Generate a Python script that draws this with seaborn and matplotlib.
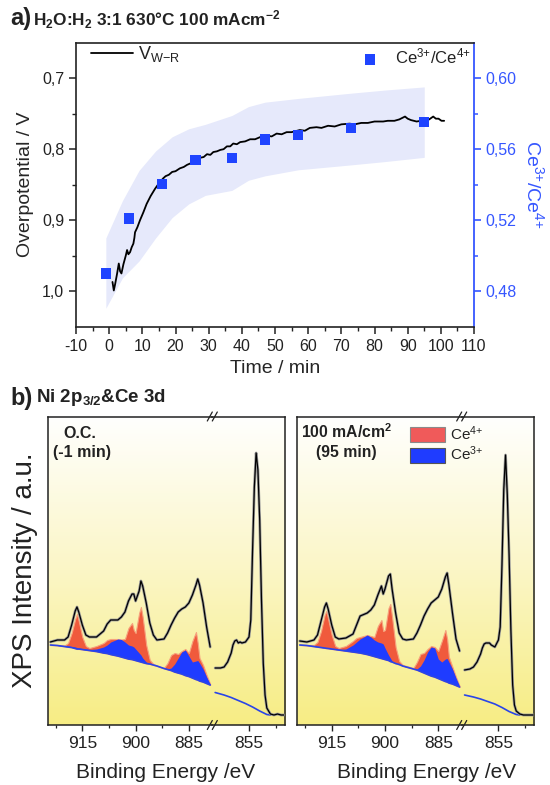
import numpy as np
import matplotlib
matplotlib.use("Agg")
import matplotlib.pyplot as plt
from matplotlib.ticker import MultipleLocator, FixedLocator, FuncFormatter, NullLocator
from matplotlib.colors import LinearSegmentedColormap
from matplotlib.patches import Patch
from matplotlib.lines import Line2D
import seaborn as sns

# ---- panel a: overpotential vs time ----
t_vwr = [1.0, 1.4, 1.8, 2.4, 2.9, 3.3, 3.7, 4.3, 5.0, 5.4, 5.8, 6.3, 6.8, 7.3, 7.6, 7.8,
         8.5, 9.3, 10.3, 11.3, 12.5, 13.8, 15.0, 16.3, 17.0, 18.0, 19.0, 20.0, 21.3, 22.5,
         23.5, 24.5, 25.4, 26.5, 27.5, 28.5, 29.5, 30.5, 31.4, 32.5, 33.5, 34.5, 35.5, 36.5,
         37.4, 38.5, 39.5, 41, 42.5, 44, 45.5, 47.5, 49, 50.5, 52, 53.5, 55, 57.5, 59, 60.5,
         62.5, 64, 66, 68, 70, 72.5, 74, 76, 78, 80, 82.6, 84, 86, 87.5, 89.2, 90, 91, 92.7,
         94, 95.5, 96.5, 97.7, 98.5, 99.3, 100.2, 101]
v_wr = [0.987, 0.999, 0.990, 0.975, 0.961, 0.972, 0.975, 0.962, 0.950, 0.942, 0.948, 0.945,
        0.938, 0.933, 0.925, 0.917, 0.910, 0.900, 0.889, 0.877, 0.866, 0.856, 0.848, 0.841,
        0.838, 0.836, 0.832, 0.831, 0.827, 0.825, 0.822, 0.820, 0.816, 0.815, 0.812, 0.811,
        0.807, 0.808, 0.804, 0.803, 0.801, 0.800, 0.796, 0.796, 0.792, 0.793, 0.790, 0.789,
        0.786, 0.786, 0.783, 0.781, 0.782, 0.778, 0.779, 0.776, 0.776, 0.773, 0.774, 0.770,
        0.769, 0.770, 0.767, 0.768, 0.765, 0.764, 0.765, 0.763, 0.763, 0.761, 0.761, 0.760,
        0.760, 0.758, 0.754, 0.757, 0.759, 0.761, 0.760, 0.760, 0.758, 0.754, 0.757, 0.757,
        0.760, 0.760]

t_ce = [-1, 6, 16, 26, 37, 47, 57, 73, 95]
ce_ratio = [0.490, 0.521, 0.5405, 0.554, 0.555, 0.5655, 0.568, 0.572, 0.5753]

band_t = [-1, 4, 9, 14, 19, 24, 29, 37, 42, 47, 57, 72, 83, 95]
band_hi = [0.510, 0.531, 0.548, 0.559, 0.567, 0.5715, 0.574, 0.579, 0.584, 0.5865, 0.5886,
           0.5914, 0.5933, 0.5951]
band_lo = [0.4704, 0.4875, 0.497, 0.510, 0.5215, 0.5292, 0.534, 0.5368, 0.5425, 0.545,
           0.5484, 0.551, 0.553, 0.5554]

# ---- panel b: XPS spectra (intensity in arbitrary units) ----
ce_ev = [924, 922, 920, 919, 918, 917, 916.5, 916, 915, 914, 913, 911, 909, 908, 907, 905,
         904, 903, 902, 901, 900.5, 900, 899, 898.5, 898, 897, 896, 895, 894, 892, 891, 890,
         889, 888, 887, 886, 885, 884, 883, 882.5, 882, 881, 880, 879]

oc_total = [83, 85, 85, 88, 100, 114, 118, 113, 100, 90, 88, 88, 94, 101, 105, 105, 108, 113,
            124, 131, 131, 124, 134, 144, 139, 122, 102, 90, 85, 86, 92, 100, 107, 113, 116,
            118, 122, 130, 140, 146, 140, 122, 98, 78]
oc_ce4 = [80.5, 80, 79.5, 82, 92, 106, 111, 104, 88, 79, 77, 79, 82, 85, 86, 86, 85.5, 86, 97,
          102, 95, 92, 112, 118, 108, 80, 65, 61, 59.5, 57, 62, 70, 72, 71, 74, 76, 72, 84, 93,
          82, 67, 60, 50, 41]
oc_ce3 = [80, 80, 79, 79, 78.5, 78, 77.5, 77, 76.5, 76, 75.5, 76, 78, 80, 83, 86, 85.5, 83, 80,
          79, 78, 76, 72, 70, 67, 63, 61, 60, 59, 56.5, 56, 57, 61, 67, 73, 75, 69, 63, 64,
          64.5, 62, 56, 48, 41]
oc_bg = [80, 79.5, 78.5, 78, 77.5, 76.5, 76, 76, 75.5, 75, 74.5, 73.5, 72, 71.5, 70.5, 69, 68,
         67, 66, 65.5, 65, 64.5, 63.5, 63, 62.5, 61.5, 61, 60, 59, 56.5, 55.5, 54.5, 53, 52,
         51, 49.5, 48.5, 47, 45.5, 45, 44, 43, 41.5, 40]

ma_total = [84, 83, 85, 90, 104, 118, 122, 116, 100, 88, 86, 87, 91, 100, 109, 112, 115, 120,
            130, 139, 131, 136, 149, 151, 136, 112, 92, 86, 85, 86, 92, 100, 109, 116, 122,
            125, 128, 136, 148, 152, 140, 112, 86, 74]
ma_ce4 = [80.5, 80, 80, 83, 94, 110, 114, 106, 90, 79, 77, 79, 84, 87, 88, 90, 89, 88, 99, 105,
          94, 95, 117, 121, 108, 78, 64, 60, 59, 57, 63, 71, 72, 76, 79, 78, 74, 84, 95, 86,
          68, 58, 48, 39]
ma_ce3 = [80, 79.5, 79, 78.5, 78, 77.5, 77, 77, 76.5, 76, 75.5, 76, 80, 83, 86, 90, 88, 85, 83,
          82, 81, 77, 70, 67, 64, 61.5, 60.5, 59.5, 58.5, 56, 56, 59, 65, 73, 78, 77, 66, 63,
          66, 66.5, 63, 56, 47, 39]
ma_bg = [80, 79.5, 78.5, 78, 77.5, 77, 76.7, 76.5, 76, 75.5, 75, 74, 73, 72.5, 72, 70.5, 69.5,
         68.5, 67.5, 66.5, 66, 65.5, 64.5, 63.5, 63, 61.5, 60.5, 59, 58, 56, 55, 53.5, 52,
         50.5, 49, 48, 46.5, 45, 43.5, 43, 42, 41, 39.5, 38]

ni_ev = [864.5, 863, 862, 861, 860, 859.5, 859, 858.5, 858, 857.5, 857, 856, 855, 854.5, 854,
         853.5, 853, 852.5, 852, 851.5, 851, 850.5, 850, 849, 848, 847, 846, 845.2]
oc_ni = [57, 57, 58, 63, 72, 80, 84, 85, 82, 83, 82, 83, 88, 105, 175, 238, 272, 255, 205, 125,
         62, 30, 17, 11, 10, 11, 10, 10]
ma_ni = [55, 56, 58, 63, 71, 77, 81, 82, 82, 82, 80, 78, 85, 98, 160, 235, 270, 230, 170, 95,
         40, 20, 14, 11, 10, 10, 10, 10]
ni_bg_ev = [864.5, 862, 860, 858, 856, 854, 852, 850, 849]
oc_ni_bg = [32.5, 30, 27.5, 24.5, 21.5, 18, 14, 10.5, 10]
ma_ni_bg = [30, 28, 26, 23.5, 21, 17.5, 13.5, 10.5, 10]

# ---- style ----
sns.set_theme(style="ticks")
plt.rcParams['font.family'] = ['Liberation Sans', 'DejaVu Sans']
plt.rcParams['mathtext.fontset'] = 'custom'
plt.rcParams['mathtext.rm'] = 'Liberation Sans'
plt.rcParams['mathtext.it'] = 'Liberation Sans:italic'
plt.rcParams['mathtext.bf'] = 'Liberation Sans:bold'
plt.rcParams['axes.unicode_minus'] = False
plt.rcParams['axes.edgecolor'] = '#222222'
plt.rcParams['text.color'] = '#222222'
plt.rcParams['xtick.color'] = '#222222'
plt.rcParams['ytick.color'] = '#222222'

BLUE_AX = '#3556ff'
BLUE_SQ = '#1f44ff'
BLUE_FILL = '#1f3cff'
RED_FILL = '#f05a3c'
TXT = '#222222'

W, H = 550, 785
fig = plt.figure(figsize=(5.5, 7.85), dpi=100)


def rect(x0, y0, x1, y1):
    return [x0 / W, 1 - y1 / H, (x1 - x0) / W, (y1 - y0) / H]


comma1 = FuncFormatter(lambda v, p: f"{v:.1f}".replace('.', ','))
comma2 = FuncFormatter(lambda v, p: f"{v:.2f}".replace('.', ','))

# ---- panel a ----
ax = fig.add_axes(rect(76, 42.7, 474, 326.7))
ax_r = ax.twinx()
ax_s = ax.twinx()
ax_r.set_zorder(1)
ax.set_zorder(2)
ax_s.set_zorder(3)
ax.patch.set_visible(False)
ax_s.patch.set_visible(False)

ax_r.fill_between(band_t, band_lo, band_hi, color='#e6e9fb', lw=0)
sns.lineplot(x=t_vwr, y=v_wr, ax=ax, color='black', lw=1.3, label=r'V$_{\mathregular{W{-}R}}$')
sns.scatterplot(x=t_ce, y=ce_ratio, ax=ax_s, marker='s', s=55, color=BLUE_SQ,
                edgecolor='none', label=r'Ce$^{3{+}}$/Ce$^{4{+}}$', zorder=5)

ax.set_xlim(-10, 110)
ax.set_ylim(1.05, 0.65)
ax_r.set_ylim(0.46, 0.62)
ax_s.set_ylim(0.46, 0.62)

ax.xaxis.set_major_locator(MultipleLocator(10))
ax.xaxis.set_minor_locator(MultipleLocator(5))
ax.yaxis.set_major_locator(FixedLocator([0.7, 0.8, 0.9, 1.0]))
ax.yaxis.set_minor_locator(FixedLocator([0.75, 0.85, 0.95]))
ax.yaxis.set_major_formatter(comma1)
ax_r.yaxis.set_major_locator(FixedLocator([0.48, 0.52, 0.56, 0.60]))
ax_r.yaxis.set_minor_locator(FixedLocator([0.50, 0.54, 0.58]))
ax_r.yaxis.set_major_formatter(comma2)
ax_s.yaxis.set_major_locator(NullLocator())
ax_s.yaxis.set_minor_locator(NullLocator())
for s in ax_s.spines.values():
    s.set_visible(False)
for s in ax_r.spines.values():
    s.set_visible(False)
ax_r.spines['right'].set_visible(True)
ax_r.spines['right'].set_color(BLUE_AX)
ax_r.spines['right'].set_linewidth(1.3)
ax.spines['right'].set_visible(False)
for side in ['left', 'bottom', 'top']:
    ax.spines[side].set_visible(True)
    ax.spines[side].set_linewidth(1.2)

ax.tick_params(axis='both', which='major', direction='out', length=5, width=1.1, labelsize=11.5)
ax.tick_params(axis='both', which='minor', direction='out', length=3, width=1.0)
ax.tick_params(axis='x', top=False, which='both')
ax_r.tick_params(axis='y', which='major', direction='out', length=5, width=1.2,
                 colors=BLUE_AX, labelsize=11.5)
ax_r.tick_params(axis='y', which='minor', direction='out', length=3, width=1.1, colors=BLUE_AX)

ax.set_xlabel('Time / min', fontsize=14, labelpad=5)
ax.set_ylabel('Overpotential / V', fontsize=14, labelpad=6)
ax_r.set_ylabel(r'Ce$^{3{+}}$/Ce$^{4{+}}$', fontsize=14, color=BLUE_AX, rotation=270, labelpad=20)

ax.legend(loc='upper left', bbox_to_anchor=(91 / W, 1 - 44 / H), bbox_transform=fig.transFigure,
          frameon=False, fontsize=13, handlelength=2.3, handletextpad=0.3, borderpad=0,
          borderaxespad=0)
ax_s.legend(loc='upper right', bbox_to_anchor=(471 / W, 1 - 47 / H), bbox_transform=fig.transFigure,
            frameon=False, fontsize=12, handletextpad=0.5, borderpad=0, borderaxespad=0)

fig.text(10 / W, 1 - 19 / H, 'a)', fontsize=17, fontweight='bold', va='center')
fig.text(33 / W, 1 - 20 / H, r'H$_\mathbf{2}$O:H$_\mathbf{2}$ 3:1 630°C 100 mAcm$^\mathbf{-2}$',
         fontsize=12.4, fontweight='bold', va='center')

# ---- panel b ----
fig.text(10 / W, 1 - 398 / H, 'b)', fontsize=17, fontweight='bold', va='center')
fig.text(36 / W, 1 - 398 / H, r'Ni 2p$_\mathbf{3/2}$&Ce 3d', fontsize=13.5, fontweight='bold',
         va='center')

grad = LinearSegmentedColormap.from_list('bg', ['#fffffe', '#fbf6c6', '#f7ed84'])
YTOP, YBOT = 416.5, 725
YMAX = YBOT - YTOP


def break_mark(xpx, ypx):
    for dx in (-2.5, 2.5):
        x0, y0 = xpx + dx - 2.5, ypx + 4.5
        x1, y1 = xpx + dx + 2.5, ypx - 4.5
        fig.add_artist(Line2D([x0 / W, x1 / W], [1 - y0 / H, 1 - y1 / H],
                              transform=fig.transFigure, color=TXT, lw=0.9, zorder=10))


def xps_panel(x0, xbreak, x1, total, ce4, ce3, bg, ni, ni_bg):
    bg_ax = fig.add_axes(rect(x0, YTOP, x1, YBOT), zorder=0)
    bg_ax.imshow(np.linspace(0, 1, 256).reshape(-1, 1), cmap=grad, aspect='auto',
                 extent=[0, 1, 0, 1])
    bg_ax.set_axis_off()

    a_ce = fig.add_axes(rect(x0, YTOP, xbreak, YBOT), zorder=1)
    a_ni = fig.add_axes(rect(xbreak, YTOP, x1, YBOT), zorder=1)
    for a in (a_ce, a_ni):
        a.patch.set_visible(False)
        a.set_ylim(0, YMAX)
        a.yaxis.set_major_locator(NullLocator())
        a.tick_params(axis='x', which='major', direction='out', length=4, width=1.0,
                      labelsize=12.5, pad=4)
        a.tick_params(axis='x', which='minor', direction='out', length=2.5, width=0.9)
        for s in a.spines.values():
            s.set_linewidth(1.1)
            s.set_color(TXT)

    a_ce.fill_between(ce_ev, bg, ce4, color=RED_FILL, lw=0.8, edgecolor='#f6a27e', zorder=2)
    a_ce.fill_between(ce_ev, bg, ce3, color=BLUE_FILL, lw=0, zorder=3)
    sns.lineplot(x=ce_ev, y=bg, ax=a_ce, color='#2a45e8', lw=1.2, zorder=4)
    sns.lineplot(x=ce_ev, y=total, ax=a_ce, color='#9a9a9a', lw=2.0, zorder=5)
    sns.lineplot(x=ce_ev, y=total, ax=a_ce, color='black', lw=0.9, zorder=6)
    a_ce.set_xlim(924.8, 878.4)
    a_ce.xaxis.set_major_locator(FixedLocator([915, 900, 885]))
    a_ce.xaxis.set_minor_locator(FixedLocator([922.5, 907.5, 892.5]))
    a_ce.spines['right'].set_visible(False)

    sns.lineplot(x=ni_bg_ev, y=ni_bg, ax=a_ni, color='#2a45e8', lw=1.2, zorder=4)
    sns.lineplot(x=ni_ev, y=ni, ax=a_ni, color='#9a9a9a', lw=2.0, zorder=5)
    sns.lineplot(x=ni_ev, y=ni, ax=a_ni, color='black', lw=0.9, zorder=6)
    a_ni.set_xlim(865.3, 844.9)
    a_ni.xaxis.set_major_locator(FixedLocator([855]))
    a_ni.xaxis.set_minor_locator(FixedLocator([847.5]))
    a_ni.spines['left'].set_visible(False)

    for a in (a_ce, a_ni):
        a.set_xlabel('')
        a.set_ylabel('')
    break_mark(xbreak, YTOP)
    break_mark(xbreak, YBOT)
    return a_ce, a_ni


l_ce, l_ni = xps_panel(47.5, 212.3, 285, oc_total, oc_ce4, oc_ce3, oc_bg, oc_ni, oc_ni_bg)
r_ce, r_ni = xps_panel(296.9, 461.7, 534.4, ma_total, ma_ce4, ma_ce3, ma_bg, ma_ni, ma_ni_bg)

fig.text(80 / W, 1 - 433 / H, 'O.C.', fontsize=11.5, fontweight='bold', ha='center', va='center')
fig.text(82 / W, 1 - 452 / H, '(-1 min)', fontsize=11.5, fontweight='bold', ha='center',
         va='center')
fig.text(346 / W, 1 - 432 / H, r'100 mA/cm$^\mathbf{2}$', fontsize=11.3, fontweight='bold',
         ha='center', va='center')
fig.text(346 / W, 1 - 452 / H, '(95 min)', fontsize=11.3, fontweight='bold', ha='center',
         va='center')

handles = [Patch(facecolor='#f05a5a', edgecolor='#8a8a8a', lw=0.8),
           Patch(facecolor=BLUE_FILL, edgecolor='#555555', lw=0.8)]
fig.legend(handles, [r'Ce$^{4{+}}$', r'Ce$^{3{+}}$'], loc='upper left',
           bbox_to_anchor=(410 / W, 1 - 424 / H), bbox_transform=fig.transFigure,
           frameon=False, fontsize=11, handlelength=2.3, handleheight=1.2,
           handletextpad=0.3, labelspacing=0.15, borderpad=0, borderaxespad=0)

fig.text(25 / W, 1 - 570 / H, 'XPS Intensity / a.u.', fontsize=20, rotation=90,
         ha='center', va='center')
fig.text(166 / W, 1 - 772 / H, 'Binding Energy /eV', fontsize=15, ha='center', va='center')
fig.text(427 / W, 1 - 772 / H, 'Binding Energy /eV', fontsize=15, ha='center', va='center')

fig.savefig('out.png', dpi=100)
